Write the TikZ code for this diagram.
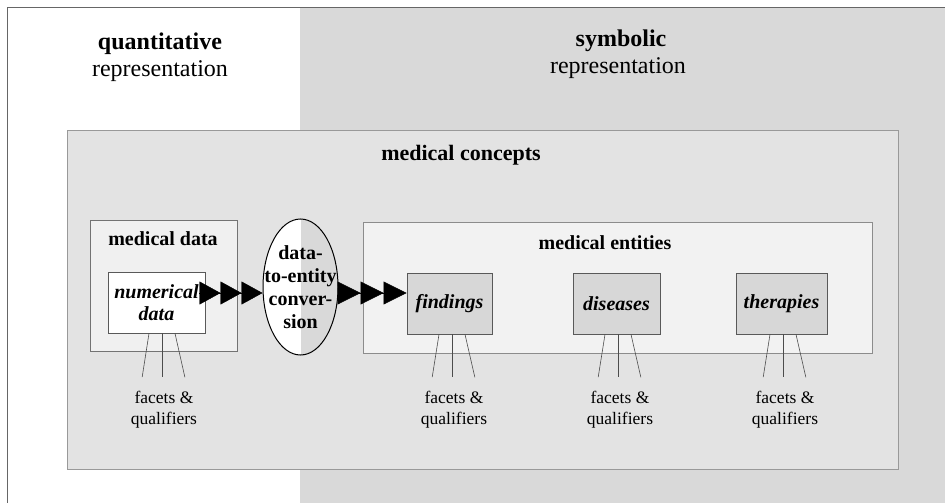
\documentclass[tikz,border=0pt]{standalone}
\usepackage{fontspec}
\setmainfont{Liberation Serif}
\usetikzlibrary{shapes.geometric,arrows.meta}
\definecolor{symgray}{HTML}{D9D9D9}
\definecolor{conceptgray}{HTML}{E3E3E3}
\definecolor{datagray}{HTML}{F0F0F0}
\definecolor{entgray}{HTML}{F2F2F2}
\definecolor{boxgray}{HTML}{D7D7D7}

\begin{document}
\begin{tikzpicture}[x=1pt,y=-1pt,
  every node/.style={inner sep=0pt},
  heading/.style={font=\fontsize{24}{28}\selectfont,anchor=base},
  boxtitle/.style={font=\bfseries\fontsize{20}{24}\selectfont,anchor=base},
  area/.style={rectangle,draw=#1,line width=0.8pt},
  item/.style={rectangle,draw=black!65,line width=0.8pt,fill=boxgray,minimum height=61pt,font=\bfseries\itshape\fontsize{20}{22}\selectfont},
  facet/.style={anchor=north,align=center,font=\fontsize{17.5}{21}\selectfont},
  fan/.style={draw=black!70,line width=0.6pt,shorten >=14pt},
  chain/.style={-{Triangle[length=#1,width=23pt]Triangle[length=#1,width=23pt]Triangle[length=#1,width=23pt]}}]
\useasboundingbox (0,0) rectangle (945,503);
\fill[symgray] (300,7) rectangle (945,503);
\draw[black!60,line width=0.8pt] (7,503) -- (7,7) -- (945,7);

\node[heading,font=\bfseries\fontsize{24}{28}\selectfont] (quant) at (160,50) {quantitative};
\node[heading] (quantrep) at (160,77) {representation};
\node[heading,font=\bfseries\fontsize{24}{28}\selectfont] (symb) at (621,47) {symbolic};
\node[heading] (symbrep) at (618,74) {representation};

\node[area=black!40,fill=conceptgray,minimum width=831pt,minimum height=339pt] (concepts) at (482.5,299.5) {};
\node[boxtitle,font=\bfseries\fontsize{22}{26}\selectfont] (ctitle) at (461,160) {medical concepts};

\node[area=black!55,fill=datagray,minimum width=147pt,minimum height=131pt] (mdata) at (163.5,285.5) {};
\node[boxtitle] (dtitle) at (163,245) {medical data};
\node[area=black!65,fill=white,minimum width=97pt,minimum height=61pt,align=center,
  font=\bfseries\itshape\fontsize{20}{22}\selectfont] (num) at (156.5,302.5) {numerical\\data};

\node[area=black!45,fill=entgray,minimum width=509pt,minimum height=131pt] (ents) at (617.5,287.5) {};
\node[boxtitle] (etitle) at (605,249) {medical entities};
\node[item,minimum width=85pt] (find) at (449.5,303.5) {findings};
\node[item,minimum width=87pt] (dis) at (616.5,303.5) {diseases};
\node[item,minimum width=91pt] (ther) at (781.5,303.5) {therapies};

% conversion step
\node[ellipse,draw,line width=1pt,minimum width=75pt,minimum height=136pt,
  path picture={
    \fill[white] (path picture bounding box.north west) rectangle (path picture bounding box.south);
    \fill[symgray] (path picture bounding box.south) rectangle (path picture bounding box.north east);
  }] (conv) at (300.5,287) {};
\node[align=center,font=\bfseries\fontsize{20}{23}\selectfont] (convtext) at (conv) {data-\\to-entity\\conver-\\sion};

\draw[chain=21pt] ([shift={(-6pt,9.5pt)}]num.east) -- ([yshift=9.5pt]num.east -| conv.west);
\draw[chain=23pt] ([yshift=10.5pt]find.west -| conv.east) -- ([yshift=10.5pt]find.west);

% facets & qualifiers
\node[facet] (fnum) at (164,391) {facets \&\\qualifiers};
\node[facet] (ffind) at (454,391) {facets \&\\qualifiers};
\node[facet] (fdis) at (620,391) {facets \&\\qualifiers};
\node[facet] (fther) at (785,391) {facets \&\\qualifiers};
\foreach \b in {num,find,dis,ther}{
  \draw[fan] ([xshift=-15pt]f\b.north |- \b.south) -- ([xshift=-24pt]f\b.north);
  \draw[fan] ([xshift=-2pt]f\b.north |- \b.south) -- ([xshift=-2pt]f\b.north);
  \draw[fan] ([xshift=11pt]f\b.north |- \b.south) -- ([xshift=24pt]f\b.north);
}
\end{tikzpicture}
\end{document}
